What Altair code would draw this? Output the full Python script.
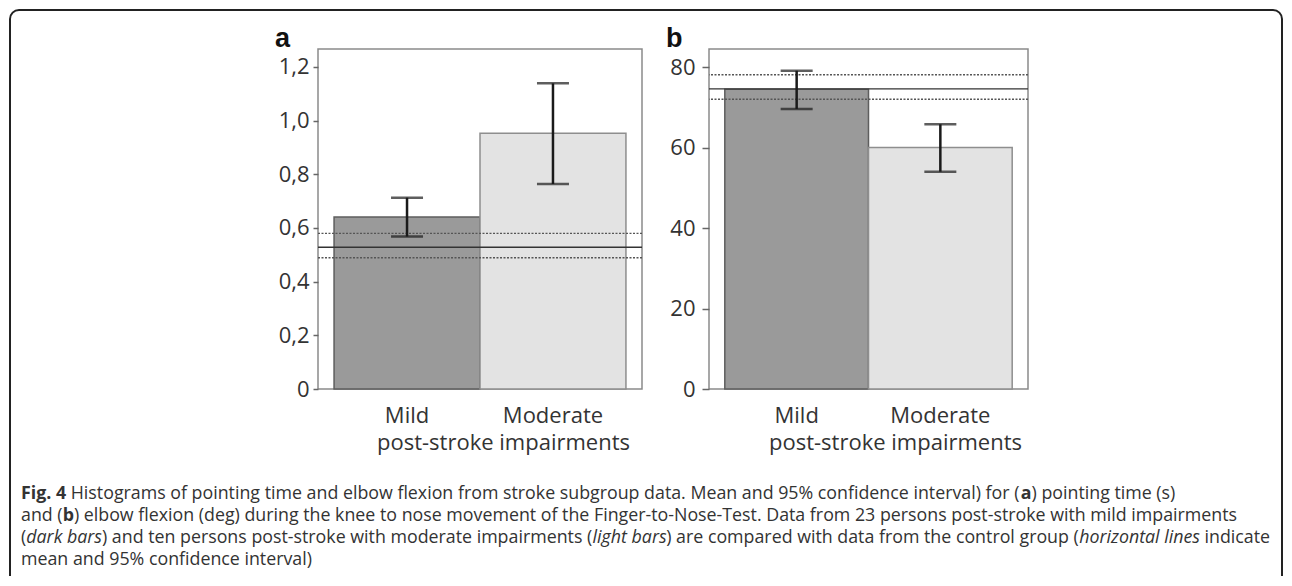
import glob
import math
import os
import struct

import altair as alt
import pandas as pd

# ---------------- data ----------------
groups = ["Mild", "Moderate"]
time_mean = [0.641, 0.953]
time_low = [0.568, 0.764]
time_high = [0.713, 1.139]
flex_mean = [74.5, 60.0]
flex_low = [69.6, 54.0]
flex_high = [79.1, 65.8]
ctrl_kind = ["mean", "ci", "ci"]
ctrl_time = [0.528, 0.489, 0.580]
ctrl_flex = [74.6, 72.0, 78.1]
time_ticks = [0, 0.2, 0.4, 0.6, 0.8, 1.0, 1.2]
flex_ticks = [0, 20, 40, 60, 80]
x_title = "post-stroke impairments"

caption_lines = [
    [("Fig. 4", "bold"),
     (" Histograms of pointing time and elbow flexion from stroke subgroup data. Mean and 95% confidence interval) for (", "normal"),
     ("a", "bold"),
     (") pointing time (s)", "normal")],
    [("and (", "normal"),
     ("b", "bold"),
     (") elbow flexion (deg) during the knee to nose movement of the Finger-to-Nose-Test. Data from 23 persons post-stroke with mild impairments", "normal")],
    [("(", "normal"),
     ("dark bars", "italic"),
     (") and ten persons post-stroke with moderate impairments (", "normal"),
     ("light bars", "italic"),
     (") are compared with data from the control group (", "normal"),
     ("horizontal lines", "italic"),
     (" indicate", "normal")],
    [("mean and 95% confidence interval)", "normal")],
]

FONT = "Open Sans"
TXT = "#333333"
ONE = alt.Data(values=[{}])


# ---------------- text measuring (for laying out mixed-style caption) ----------------
def find_font(patterns):
    dirs = ["/usr/share/fonts", "/usr/local/share/fonts",
            os.path.expanduser("~/.fonts"), os.path.expanduser("~/.local/share/fonts")]
    for p in patterns:
        for d in dirs:
            hits = sorted(glob.glob(os.path.join(d, "**", p), recursive=True))
            if hits:
                return hits[0]
    return None


def load_widths(path):
    with open(path, "rb") as f:
        data = f.read()
    base = struct.unpack(">I", data[12:16])[0] if data[:4] == b"ttcf" else 0
    num = struct.unpack(">H", data[base + 4:base + 6])[0]
    tables = {}
    for i in range(num):
        rec = base + 12 + 16 * i
        tag = data[rec:rec + 4].decode("latin1")
        off = struct.unpack(">I", data[rec + 8:rec + 12])[0]
        tables[tag] = off
    upem = struct.unpack(">H", data[tables["head"] + 18:tables["head"] + 20])[0]
    nhm = struct.unpack(">H", data[tables["hhea"] + 34:tables["hhea"] + 36])[0]
    hm = tables["hmtx"]
    adv = [struct.unpack(">H", data[hm + 4 * i:hm + 4 * i + 2])[0] for i in range(nhm)]
    cm = tables["cmap"]
    n = struct.unpack(">H", data[cm + 2:cm + 4])[0]
    sub = None
    for i in range(n):
        pid, eid, soff = struct.unpack(">HHI", data[cm + 4 + 8 * i:cm + 12 + 8 * i])
        fmt = struct.unpack(">H", data[cm + soff:cm + soff + 2])[0]
        if fmt == 4 and ((pid == 3 and eid == 1) or pid == 0):
            sub = cm + soff
            break
    segx2 = struct.unpack(">H", data[sub + 6:sub + 8])[0]
    segn = segx2 // 2
    ends = struct.unpack(">%dH" % segn, data[sub + 14:sub + 14 + segx2])
    st_off = sub + 16 + segx2
    starts = struct.unpack(">%dH" % segn, data[st_off:st_off + segx2])
    de_off = st_off + segx2
    deltas = struct.unpack(">%dh" % segn, data[de_off:de_off + segx2])
    ro_off = de_off + segx2
    ros = struct.unpack(">%dH" % segn, data[ro_off:ro_off + segx2])

    def glyph(ch):
        code = ord(ch)
        for k in range(segn):
            if ends[k] >= code:
                if starts[k] > code:
                    return 0
                if ros[k] == 0:
                    return (code + deltas[k]) & 0xFFFF
                addr = ro_off + 2 * k + ros[k] + 2 * (code - starts[k])
                g = struct.unpack(">H", data[addr:addr + 2])[0]
                return (g + deltas[k]) & 0xFFFF if g else 0
        return 0

    def width(s):
        return sum(adv[min(glyph(c), nhm - 1)] for c in s) / upem

    return width


def measurer(patterns, fallback):
    try:
        p = find_font(patterns)
        if p:
            w = load_widths(p)
            w("abc")
            return w
    except Exception:
        pass
    return fallback


w_reg = measurer(["OpenSans-Regular.ttf", "OpenSans[[]*.ttf", "OpenSans-*.ttf"],
                 lambda s: 0.54 * len(s))
w_bold = measurer(["OpenSans-Bold.ttf"], lambda s: w_reg(s) * 1.06)
w_ital = measurer(["OpenSans-Italic.ttf", "OpenSans-Italic[[]*.ttf"], lambda s: w_reg(s) * 0.96)
W = {"normal": w_reg, "bold": w_bold, "italic": w_ital}


def text(s, x, y, size=16, weight="normal", style="normal", font=FONT, color=TXT, align="left"):
    return alt.Chart(ONE).mark_text(
        text=s, x=x, y=y, align=align, baseline="alphabetic", font=font,
        fontSize=size, fontWeight=weight, fontStyle=style, color=color,
    )


# ---------------- panels ----------------
def panel(means, lows, highs, ctrl, ticks, ymax, label_expr, width, letter,
          tick_size, label_pad, title_x):
    df = pd.DataFrame({"group": groups, "mean": means, "low": lows, "high": highs})
    cdf = pd.DataFrame({"value": ctrl, "kind": ctrl_kind})
    xenc = alt.X(
        "group:N", sort=groups,
        scale=alt.Scale(paddingInner=0, paddingOuter=0.11),
        axis=alt.Axis(
            title=x_title, labelAngle=0, domain=False, ticks=False, tickSize=0,
            labelPadding=33, labelBaseline="alphabetic", labelFontSize=22,
            labelColor=TXT, labelFont=FONT, titleFont=FONT, titleFontSize=22,
            titleFontWeight="normal", titleColor=TXT, titleX=title_x, titleY=60,
            titleAlign="center", titleBaseline="alphabetic",
        ),
    )
    yscale = alt.Scale(domain=[0, ymax], nice=False, zero=True)
    yaxis = alt.Axis(
        title=None, values=ticks, labelExpr=label_expr, grid=False, domain=False,
        tickSize=tick_size, tickColor="#666666", tickWidth=1.5,
        labelPadding=label_pad, labelFontSize=22, labelColor=TXT, labelFont=FONT,
    )
    base = alt.Chart(df)
    bars = base.mark_bar(strokeWidth=1.5).encode(
        x=xenc,
        y=alt.Y("mean:Q", scale=yscale, axis=yaxis),
        color=alt.Color("group:N", scale=alt.Scale(domain=groups, range=["#9a9a9a", "#e3e3e3"]), legend=None),
        stroke=alt.Stroke("group:N", scale=alt.Scale(domain=groups, range=["#5e5e5e", "#8e8e8e"]), legend=None),
    )
    cbase = alt.Chart(cdf)
    ctrl_mean = cbase.transform_filter(alt.datum.kind == "mean").mark_rule(
        color="#333333", strokeWidth=1.4
    ).encode(y=alt.Y("value:Q", scale=yscale, axis=yaxis))
    ctrl_ci = cbase.transform_filter(alt.datum.kind == "ci").mark_rule(
        color="#555555", strokeWidth=1.4, strokeDash=[2, 1.5]
    ).encode(y=alt.Y("value:Q", scale=yscale, axis=yaxis))
    err = base.mark_rule(color="#1a1a1a", strokeWidth=2.5).encode(
        x=xenc, y=alt.Y("low:Q", scale=yscale, axis=yaxis), y2="high:Q"
    )
    cap_hi = base.mark_tick(color="#1a1a1a", size=32, thickness=2.5).encode(
        x=xenc, y=alt.Y("high:Q", scale=yscale, axis=yaxis)
    )
    cap_lo = base.mark_tick(color="#1a1a1a", size=32, thickness=2.5).encode(
        x=xenc, y=alt.Y("low:Q", scale=yscale, axis=yaxis)
    )
    lab = text(letter, -43, -2, size=27, weight="bold", font="Liberation Sans", color="#111111")
    return [bars, ctrl_mean, ctrl_ci, err, cap_hi, cap_lo, lab], width


time_expr = "datum.value == 0 ? '0' : replace(format(datum.value, '.1f'), '.', ',')"
flex_expr = "format(datum.value, 'd')"

layers_a, wa = panel(time_mean, time_low, time_high, ctrl_time, time_ticks, 1.267,
                     time_expr, 324, "a", 5, 4, 185)
layers_b, wb = panel(flex_mean, flex_low, flex_high, ctrl_flex, flex_ticks, 84.5,
                     flex_expr, 319, "b", 7, 7, 186)

# ---------------- caption (x, y relative to panel a plot origin) ----------------
ORIGIN_X, ORIGIN_Y = 318, 49          # panel a plot origin in page pixels
CAP_LEFT = 21                          # page x where caption lines start
L3_END = 1270                          # page x where the widest (third) line ends
baselines = [498.5, 520.5, 542.5, 565]


def natural(line):
    return sum(W[st](s) for s, st in line)


CAP_SIZE = max(14.0, min(19.0, (L3_END - CAP_LEFT) / natural(caption_lines[2])))

caption = []
for line, by in zip(caption_lines, baselines):
    cx = CAP_LEFT
    for s, st in line:
        lead = len(s) - len(s.lstrip(" "))
        core = s.strip(" ")
        xpos = cx + W[st](" " * lead) * CAP_SIZE if lead else cx
        caption.append(text(core, xpos - ORIGIN_X, by - ORIGIN_Y, size=CAP_SIZE,
                            weight="bold" if st == "bold" else "normal",
                            style="italic" if st == "italic" else "normal"))
        cx += W[st](s) * CAP_SIZE

# ---------------- outer rounded frame ----------------
# Vega pads stroked-mark bounds by the stroke width, so line centres sit 2px
# inside the chart edges (chart spans page 8..1284 x 8..578).
BC = "#222222"
SW = 2
L, R, T, B, RAD = 10, 1282, 10, 576, 9
frame_mark = dict(color=BC, strokeWidth=SW)
arc_mark = dict(radius=RAD, radius2=RAD, stroke=BC, strokeWidth=SW, fillOpacity=0,
                strokeJoin="round", strokeCap="round")
border = [
    alt.Chart(ONE).mark_rule(**frame_mark).encode(
        x=alt.value(L + RAD - ORIGIN_X), x2=alt.value(R - RAD - ORIGIN_X), y=alt.value(T - ORIGIN_Y)),
    alt.Chart(ONE).mark_rule(**frame_mark).encode(
        x=alt.value(L - ORIGIN_X), y=alt.value(T + RAD - ORIGIN_Y), y2=alt.value(B - ORIGIN_Y)),
    alt.Chart(ONE).mark_rule(**frame_mark).encode(
        x=alt.value(R - ORIGIN_X), y=alt.value(T + RAD - ORIGIN_Y), y2=alt.value(B - ORIGIN_Y)),
    alt.Chart(ONE).mark_arc(theta=1.5 * math.pi, theta2=2 * math.pi, **arc_mark).encode(
        x=alt.value(L + RAD - ORIGIN_X), y=alt.value(T + RAD - ORIGIN_Y)),
    alt.Chart(ONE).mark_arc(theta=0, theta2=0.5 * math.pi, **arc_mark).encode(
        x=alt.value(R - RAD - ORIGIN_X), y=alt.value(T + RAD - ORIGIN_Y)),
]

panel_a = alt.layer(*layers_a, *caption, *border).properties(width=wa, height=340)
panel_b = alt.layer(*layers_b).properties(width=wb, height=340)

chart = alt.hconcat(panel_a, panel_b, spacing=67, bounds="flush").properties(
    padding={"left": 0, "top": 0, "right": 0, "bottom": 0}, background="white"
).configure(font=FONT).configure_view(stroke="#8a8a8a", strokeWidth=1.5)

chart.save("out.html", embed_options={"renderer": "svg", "actions": False})
